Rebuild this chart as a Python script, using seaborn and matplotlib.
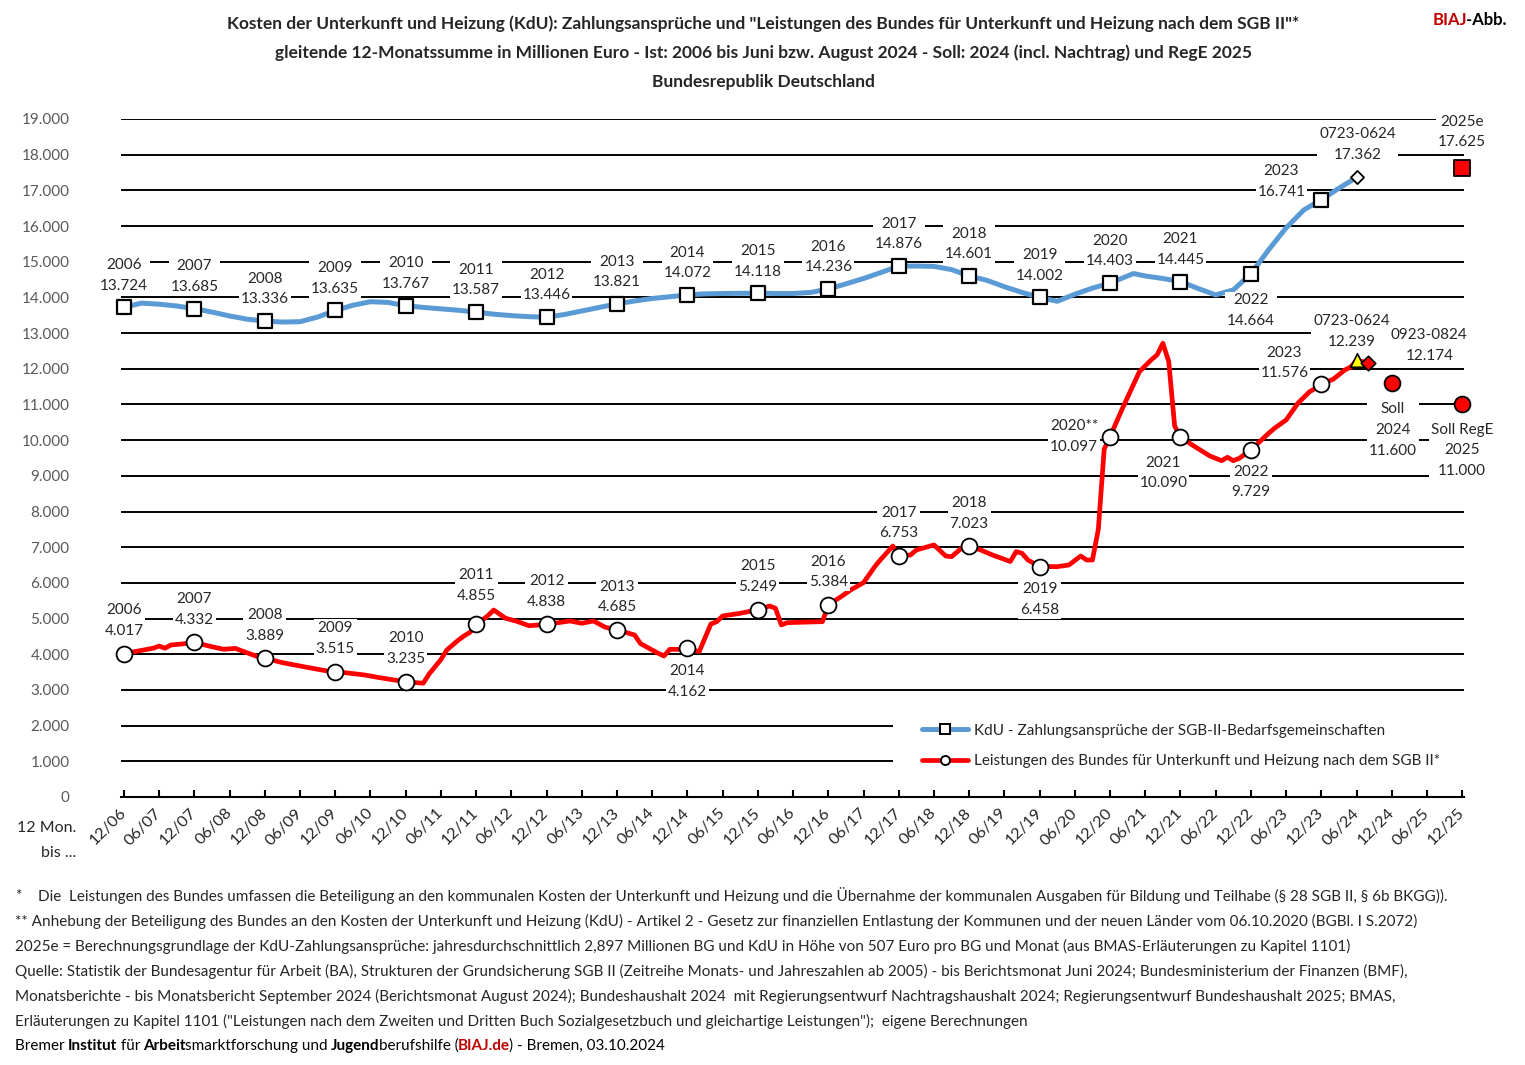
import numpy as np
import pandas as pd
import matplotlib
matplotlib.use("Agg")
import matplotlib.pyplot as plt
import seaborn as sns
from matplotlib.lines import Line2D
from matplotlib.patches import Rectangle

# ---------------- DATA ----------------
kdu_dates = ["2006-12", "2007-03", "2007-06", "2007-09", "2007-12", "2008-03", "2008-06", "2008-09",
             "2008-12", "2009-03", "2009-06", "2009-09", "2009-12", "2010-03", "2010-06", "2010-09",
             "2010-12", "2011-03", "2011-06", "2011-09", "2011-12", "2012-03", "2012-06", "2012-09",
             "2012-12", "2013-03", "2013-06", "2013-09", "2013-12", "2014-03", "2014-06", "2014-09",
             "2014-12", "2015-03", "2015-06", "2015-09", "2015-12", "2016-03", "2016-06", "2016-09",
             "2016-12", "2017-03", "2017-06", "2017-09", "2017-12", "2018-03", "2018-06", "2018-09",
             "2018-12", "2019-03", "2019-06", "2019-09", "2019-12", "2020-03", "2020-06", "2020-09",
             "2020-12", "2021-04", "2021-06", "2021-09", "2021-12", "2022-03", "2022-06", "2022-09",
             "2022-12", "2023-03", "2023-06", "2023-09", "2023-12", "2024-03", "2024-06"]
kdu_values = [13724, 13840, 13810, 13760, 13685, 13590, 13480, 13390,
              13336, 13310, 13320, 13450, 13635, 13780, 13880, 13860,
              13767, 13720, 13680, 13640, 13587, 13530, 13490, 13460,
              13446, 13520, 13620, 13720, 13821, 13900, 13970, 14020,
              14072, 14100, 14110, 14115, 14118, 14110, 14110, 14140,
              14236, 14380, 14530, 14700, 14876, 14880, 14870, 14780,
              14601, 14480, 14300, 14140, 14002, 13890, 14090, 14260,
              14403, 14670, 14600, 14530, 14445, 14250, 14070, 14210,
              14664, 15330, 15950, 16450, 16741, 17060, 17362]

bund_dates = ["2006-12", "2007-05", "2007-06", "2007-07", "2007-08", "2007-10", "2007-12", "2008-03",
              "2008-05", "2008-07", "2008-08", "2008-11", "2008-12", "2009-03", "2009-07", "2009-11",
              "2009-12", "2010-05", "2010-07", "2010-10", "2010-12", "2011-02", "2011-03", "2011-04",
              "2011-06", "2011-07", "2011-09", "2011-10", "2011-11", "2011-12", "2012-01", "2012-02",
              "2012-03", "2012-05", "2012-07", "2012-09", "2012-12", "2013-04", "2013-06", "2013-08",
              "2013-10", "2013-12", "2014-03", "2014-04", "2014-07", "2014-08", "2014-09", "2014-11",
              "2014-12", "2015-02", "2015-04", "2015-05", "2015-06", "2015-09", "2015-12", "2016-02",
              "2016-03", "2016-04", "2016-05", "2016-11", "2016-12", "2017-02", "2017-04", "2017-06",
              "2017-08", "2017-09", "2017-11", "2017-12", "2018-02", "2018-03", "2018-06", "2018-08",
              "2018-09", "2018-11", "2018-12", "2019-02", "2019-04", "2019-07", "2019-08", "2019-09",
              "2019-10", "2019-12", "2020-03", "2020-05", "2020-07", "2020-08", "2020-09", "2020-10",
              "2020-11", "2020-12", "2021-02", "2021-05", "2021-07", "2021-08", "2021-09", "2021-10",
              "2021-11", "2021-12", "2022-02", "2022-05", "2022-07", "2022-08", "2022-09", "2022-10",
              "2022-12", "2023-03", "2023-04", "2023-06", "2023-08", "2023-10", "2023-11", "2023-12",
              "2024-02", "2024-04", "2024-05", "2024-06", "2024-07", "2024-08"]
bund_values = [4017, 4170, 4230, 4170, 4260, 4290, 4332, 4210,
               4140, 4165, 4100, 3920, 3889, 3765, 3640, 3520,
               3515, 3420, 3360, 3280, 3235, 3200, 3190, 3450,
               3850, 4120, 4400, 4520, 4620, 4855, 4950, 5080,
               5240, 5010, 4920, 4800, 4838, 4933, 4868, 4933,
               4756, 4685, 4540, 4300, 4028, 3952, 4139, 4139,
               4162, 4073, 4849, 4914, 5073, 5148, 5249, 5353,
               5288, 4821, 4886, 4914, 5384, 5596, 5820, 6006,
               6474, 6670, 7034, 6753, 6782, 6923, 7063, 6754,
               6735, 7015, 7023, 6920, 6780, 6600, 6876, 6830,
               6642, 6458, 6455, 6502, 6754, 6642, 6642, 7500,
               9750, 10097, 10850, 11920, 12248, 12388, 12716, 12200,
               10400, 10090, 9865, 9557, 9425, 9520, 9425, 9490,
               9729, 10190, 10331, 10566, 11034, 11359, 11453, 11576,
               11706, 11967, 12050, 12239, 12200, 12174]

soll_dates = ["2024-12", "2025-12"]
soll_values = [11600, 11000]
soll_names = ["Soll\n2024", "Soll RegE\n2025"]
estimate_dates = ["2025-12"]
estimate_values = [17625]
estimate_names = ["2025e"]

x_tick_labels = ["12/06", "06/07", "12/07", "06/08", "12/08", "06/09", "12/09", "06/10", "12/10",
                 "06/11", "12/11", "06/12", "12/12", "06/13", "12/13", "06/14", "12/14", "06/15",
                 "12/15", "06/16", "12/16", "06/17", "12/17", "06/18", "12/18", "06/19", "12/19",
                 "06/20", "12/20", "06/21", "12/21", "06/22", "12/22", "06/23", "12/23", "06/24",
                 "12/24", "06/25", "12/25"]
y_tick_values = [0, 1000, 2000, 3000, 4000, 5000, 6000, 7000, 8000, 9000, 10000,
                 11000, 12000, 13000, 14000, 15000, 16000, 17000, 18000, 19000]
y_tick_labels = ["0", "1.000", "2.000", "3.000", "4.000", "5.000", "6.000", "7.000", "8.000",
                 "9.000", "10.000", "11.000", "12.000", "13.000", "14.000", "15.000", "16.000",
                 "17.000", "18.000", "19.000"]

legend_labels = ["KdU - Zahlungsansprüche der SGB-II-Bedarfsgemeinschaften",
                 "Leistungen des Bundes für Unterkunft und Heizung nach dem SGB II*"]

title_lines = ["Kosten der Unterkunft und Heizung (KdU): Zahlungsansprüche und \"Leistungen des Bundes für Unterkunft und Heizung nach dem SGB II\"*",
               "gleitende 12-Monatssumme in Millionen Euro - Ist: 2006 bis Juni bzw. August 2024 - Soll: 2024 (incl. Nachtrag) und RegE 2025",
               "Bundesrepublik Deutschland"]

footnotes = [
    "Die  Leistungen des Bundes umfassen die Beteiligung an den kommunalen Kosten der Unterkunft und Heizung und die Übernahme der kommunalen Ausgaben für Bildung und Teilhabe (§ 28 SGB II, § 6b BKGG)).",
    "** Anhebung der Beteiligung des Bundes an den Kosten der Unterkunft und Heizung (KdU) - Artikel 2 - Gesetz zur finanziellen Entlastung der Kommunen und der neuen Länder vom 06.10.2020 (BGBl. I S.2072)",
    "2025e = Berechnungsgrundlage der KdU-Zahlungsansprüche: jahresdurchschnittlich 2,897 Millionen BG und KdU in Höhe von 507 Euro pro BG und Monat (aus BMAS-Erläuterungen zu Kapitel 1101)",
    "Quelle: Statistik der Bundesagentur für Arbeit (BA), Strukturen der Grundsicherung SGB II (Zeitreihe Monats- und Jahreszahlen ab 2005) - bis Berichtsmonat Juni 2024; Bundesministerium der Finanzen (BMF),",
    "Monatsberichte - bis Monatsbericht September 2024 (Berichtsmonat August 2024); Bundeshaushalt 2024  mit Regierungsentwurf Nachtragshaushalt 2024; Regierungsentwurf Bundeshaushalt 2025; BMAS,",
    "Erläuterungen zu Kapitel 1101 (\"Leistungen nach dem Zweiten und Dritten Buch Sozialgesetzbuch und gleichartige Leistungen\");  eigene Berechnungen",
]
credit_runs = [("Bremer ", "normal", "black"), ("Institut", "bold", "black"), (" für ", "normal", "black"),
               ("Arbeit", "bold", "black"), ("smarktforschung und ", "normal", "black"),
               ("Jugend", "bold", "black"), ("berufshilfe (", "normal", "black"),
               ("BIAJ.de", "bold", "#C00000"), (") - Bremen, 03.10.2024", "normal", "black")]

# ---------------- STYLE ----------------
W, H = 1525, 1065
BLUE = "#5B9BD5"
RED = "#FF0000"
FS = 11

sns.set_style("white")
plt.rcParams["font.family"] = ["Lato", "DejaVu Sans"]


def month_index(s):
    y, mo = map(int, s.split("-"))
    return (y - 2006) * 12 + (mo - 12)


def fmt(v):
    return f"{v:,}".replace(",", ".")


kdu = pd.DataFrame({"m": [month_index(d) for d in kdu_dates], "v": kdu_values, "date": kdu_dates})
bund = pd.DataFrame({"m": [month_index(d) for d in bund_dates], "v": bund_values, "date": bund_dates})
soll = pd.DataFrame({"m": [month_index(d) for d in soll_dates], "v": soll_values, "name": soll_names})
est = pd.DataFrame({"m": [month_index(d) for d in estimate_dates], "v": estimate_values, "name": estimate_names})

kdu_dec = kdu[kdu["date"].str.endswith("-12")]
bund_dec = bund[bund["date"].str.endswith("-12")]
kdu_last = kdu.iloc[[-1]]
bund_jun = bund[bund["date"] == kdu_dates[-1]]
bund_last = bund.iloc[[-1]]

fig = plt.figure(figsize=(W / 100, H / 100), dpi=100)
ax_left, ax_right, ax_top, ax_bottom = 121, 1464, 119, 797
ax = fig.add_axes([ax_left / W, 1 - ax_bottom / H, (ax_right - ax_left) / W, (ax_bottom - ax_top) / H])
ax.set_xlim(-0.5, 228.3)
ax.set_ylim(0, 19000)
ax.set_axisbelow(True)
ax.yaxis.grid(True, color="black", lw=1.4, zorder=0.5)
ax.xaxis.grid(False)
for s in ["left", "right", "top"]:
    ax.spines[s].set_visible(False)
ax.spines["bottom"].set_color("black")
ax.spines["bottom"].set_linewidth(1.5)

# lines
sns.lineplot(data=kdu, x="m", y="v", ax=ax, color=BLUE, lw=3.6, legend=False, zorder=3,
             solid_joinstyle="round", solid_capstyle="round")
sns.lineplot(data=bund, x="m", y="v", ax=ax, color=RED, lw=3.4, legend=False, zorder=3,
             solid_joinstyle="round", solid_capstyle="round")

# markers
sns.scatterplot(data=kdu_dec, x="m", y="v", ax=ax, marker="s", s=110, color="white",
                edgecolor="black", linewidth=1.6, zorder=4, legend=False, clip_on=False)
sns.scatterplot(data=kdu_last, x="m", y="v", ax=ax, marker="D", s=45, color="white",
                edgecolor="black", linewidth=1.3, zorder=4, legend=False, clip_on=False)
sns.scatterplot(data=bund_dec, x="m", y="v", ax=ax, marker="o", s=130, color="white",
                edgecolor="black", linewidth=1.3, zorder=4, legend=False, clip_on=False)
sns.scatterplot(data=bund_jun, x="m", y="v", ax=ax, marker="^", s=95, color="#FFFF00",
                edgecolor="black", linewidth=1.2, zorder=4, legend=False, clip_on=False)
sns.scatterplot(data=bund_last, x="m", y="v", ax=ax, marker="D", s=55, color=RED,
                edgecolor="black", linewidth=1.2, zorder=4, legend=False, clip_on=False)
sns.scatterplot(data=soll, x="m", y="v", ax=ax, marker="o", s=130, color=RED,
                edgecolor="black", linewidth=1.3, zorder=4, legend=False, clip_on=False)
sns.scatterplot(data=est, x="m", y="v", ax=ax, marker="s", s=120, color=RED,
                edgecolor="black", linewidth=1.3, zorder=4, legend=False, clip_on=False)
ax.set_xlabel("")
ax.set_ylabel("")

# ticks
ax.set_xticks(np.arange(0, 229, 6))
ax.set_xticklabels(x_tick_labels, rotation=45, ha="right", va="center", rotation_mode="anchor", fontsize=11.8)
ax.tick_params(axis="x", direction="in", length=5, width=1.5, color="black", pad=10, bottom=True)
ax.set_yticks(y_tick_values)
ax.set_yticklabels(y_tick_labels, fontsize=FS, color="#595959")
ax.tick_params(axis="y", length=0, pad=37)

# data labels
def put_label(m, v, top, dx, dy, ha="center"):
    ax.annotate(f"{top}\n{fmt(v)}", xy=(m, v), xytext=(dx, dy), textcoords="offset pixels",
                ha=ha, va="center", fontsize=FS, linespacing=1.6, zorder=6, annotation_clip=False,
                bbox=dict(boxstyle="square,pad=0.12", fc="white", ec="none"))

blue_off = {"2022": (0, -37), "2023": (-40, 18)}
for _, r in kdu_dec.iterrows():
    yr = r["date"][:4]
    dx, dy = blue_off.get(yr, (0, 32))
    put_label(r["m"], r["v"], yr, dx, dy)
put_label(kdu_last["m"].iloc[0], kdu_last["v"].iloc[0], "0723-0624", 1, 33)

red_off = {"2011": (0, 38), "2014": (0, -33), "2019": (0, -33), "2020": (-12, 0, "right"),
           "2021": (-17, -36), "2022": (0, -32), "2023": (-37, 21)}
for _, r in bund_dec.iterrows():
    yr = r["date"][:4]
    o = red_off.get(yr, (0, 33))
    name = yr + ("**" if yr == "2020" else "")
    put_label(r["m"], r["v"], name, o[0], o[1], o[2] if len(o) > 2 else "center")
put_label(bund_jun["m"].iloc[0], bund_jun["v"].iloc[0], "0723-0624", -5, 29)
put_label(bund_last["m"].iloc[0], bund_last["v"].iloc[0], "0923-0824", 61, 17)
soll_off = [(1, -47), (0, -46)]
for (_, r), o in zip(soll.iterrows(), soll_off):
    put_label(r["m"], r["v"], r["name"], o[0], o[1])
for _, r in est.iterrows():
    put_label(r["m"], r["v"], r["name"], 0, 36)

# legend with white background
ax.add_patch(Rectangle((893 / W, 1 - 784 / H), (ax_right + 2 - 893) / W, (784 - 712) / H,
                       transform=fig.transFigure, fc="white", ec="none", zorder=1.5, clip_on=False))
handles = [Line2D([], [], color=BLUE, lw=3.6, marker="s", markersize=6.5, mfc="white", mec="black", mew=1.4),
           Line2D([], [], color=RED, lw=3.4, marker="o", markersize=6.5, mfc="white", mec="black", mew=1.4)]
leg = ax.legend(handles, legend_labels, loc="center left", bbox_to_anchor=(922 / W, 1 - 746 / H),
                bbox_transform=fig.transFigure, frameon=False, borderpad=0, borderaxespad=0,
                handlelength=3.0, handletextpad=0.4, labelspacing=1.1, fontsize=FS)
leg.set_zorder(7)

# axis side text
fig.text(76 / W, 1 - 828 / H, "12 Mon.", ha="right", va="center", fontsize=11.5)
fig.text(76 / W, 1 - 853 / H, "bis ...", ha="right", va="center", fontsize=11.5)

# titles
for line, yy in zip(title_lines, [24, 53, 82]):
    fig.text(763 / W, 1 - yy / H, line, ha="center", va="center", fontsize=12.5, weight="bold")

renderer = fig.canvas.get_renderer()


def runs(x, y, parts, fs, squeeze=0.6):
    for txt, wt, col in parts:
        t = fig.text(x / W, 1 - y / H, txt, ha="left", va="center", fontsize=fs, weight=wt, color=col)
        bb = t.get_window_extent(renderer)
        x = bb.x1 - squeeze


runs(1433, 20, [("BIAJ", "bold", "#C00000"), ("-Abb.", "bold", "black")], 12, squeeze=1.5)

# footnotes
FN = 11
fig.text(15 / W, 1 - 896 / H, "*", ha="left", va="center", fontsize=FN)
fig.text(38 / W, 1 - 896 / H, footnotes[0], ha="left", va="center", fontsize=FN)
for i, line in enumerate(footnotes[1:]):
    fig.text(15 / W, 1 - (921 + 25 * i) / H, line, ha="left", va="center", fontsize=FN)
runs(15, 1046, credit_runs, FN)

fig.savefig("out.png", dpi=100)
